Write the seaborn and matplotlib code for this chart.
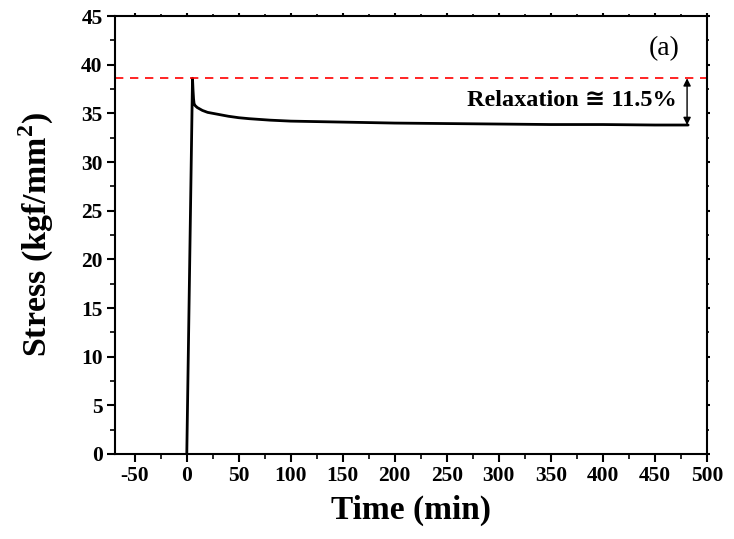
import matplotlib
matplotlib.use("Agg")
import matplotlib.pyplot as plt
import seaborn as sns
import pandas as pd
from matplotlib.ticker import MultipleLocator

time_min = [0, 5.5, 6.0, 6.5, 7.0, 8.0, 10, 15, 20, 30, 40, 50, 60, 80, 100,
            150, 200, 250, 300, 350, 400, 450, 482]
stress = [0, 38.6, 37.4, 36.5, 36.0, 35.8, 35.6, 35.3, 35.1, 34.9, 34.7, 34.55,
          34.45, 34.3, 34.2, 34.1, 34.0, 33.95, 33.9, 33.85, 33.85, 33.8, 33.8]
peak_stress = 38.6
final_stress = 33.8
x_ticks = [-50, 0, 50, 100, 150, 200, 250, 300, 350, 400, 450, 500]
y_ticks = [0, 5, 10, 15, 20, 25, 30, 35, 40, 45]

sns.set_theme(style="ticks")
plt.rcParams['font.family'] = ['Liberation Serif', 'DejaVu Sans']
plt.rcParams['text.color'] = 'black'
plt.rcParams['axes.labelcolor'] = 'black'
plt.rcParams['xtick.color'] = 'black'
plt.rcParams['ytick.color'] = 'black'
plt.rcParams['mathtext.fontset'] = 'custom'
plt.rcParams['mathtext.rm'] = 'Liberation Serif'
plt.rcParams['mathtext.bf'] = 'Liberation Serif:bold'

df = pd.DataFrame({"time": time_min, "stress": stress})

fig = plt.figure(figsize=(7.34, 5.39), dpi=100)
ax = fig.add_axes([0.1567, 0.1577, 0.8063, 0.8126])

sns.lineplot(data=df, x="time", y="stress", ax=ax, color="black", linewidth=2.0,
             sort=False, estimator=None)
ax.axhline(peak_stress, color="red", linestyle=(0, (5, 4)), linewidth=1.2)

ax.annotate("", xy=(481, peak_stress), xytext=(481, final_stress),
            arrowprops=dict(arrowstyle="<|-|>", color="black", lw=1.0,
                            mutation_scale=11, shrinkA=0, shrinkB=0))
ax.text(471, 36.3, "Relaxation \u2245 11.5%", ha="right", va="center",
        fontsize=17.5, fontweight="bold",
        family=['Liberation Serif', 'DejaVu Sans'])
ax.text(459, 41.7, "(a)", ha="center", va="center", fontsize=20)

ax.set_xlim(-69, 500)
ax.set_ylim(0, 45)
ax.set_xticks(x_ticks)
ax.set_yticks(y_ticks)
ax.xaxis.set_minor_locator(MultipleLocator(25))
ax.yaxis.set_minor_locator(MultipleLocator(2.5))
ax.set_xticklabels([str(v) for v in x_ticks], fontsize=15.5, fontweight="bold")
ax.set_yticklabels([str(v) for v in y_ticks], fontsize=15.5, fontweight="bold")
ax.tick_params(axis="both", which="major", direction="out", length=6, width=1.5,
               color="black", pad=3, top=True, right=True)
ax.tick_params(axis="both", which="minor", direction="out", length=3.5, width=1.2,
               color="black", top=True, right=True)
for t in ax.xaxis.get_major_ticks():
    t.tick2line.set_markersize(2.5)
for t in ax.yaxis.get_major_ticks():
    t.tick2line.set_markersize(2.5)
for t in ax.xaxis.get_minor_ticks():
    t.tick2line.set_markersize(1.5)
for t in ax.yaxis.get_minor_ticks():
    t.tick2line.set_markersize(1.5)

for sp in ax.spines.values():
    sp.set_linewidth(1.5)
    sp.set_color("black")

ax.set_xlabel("Time (min)", fontsize=24, fontweight="bold", labelpad=6)
ax.set_ylabel("Stress (kgf/mm$^\\mathbf{2}$)", fontsize=24.5, fontweight="bold", labelpad=18)

fig.savefig("out.png", dpi=100)
